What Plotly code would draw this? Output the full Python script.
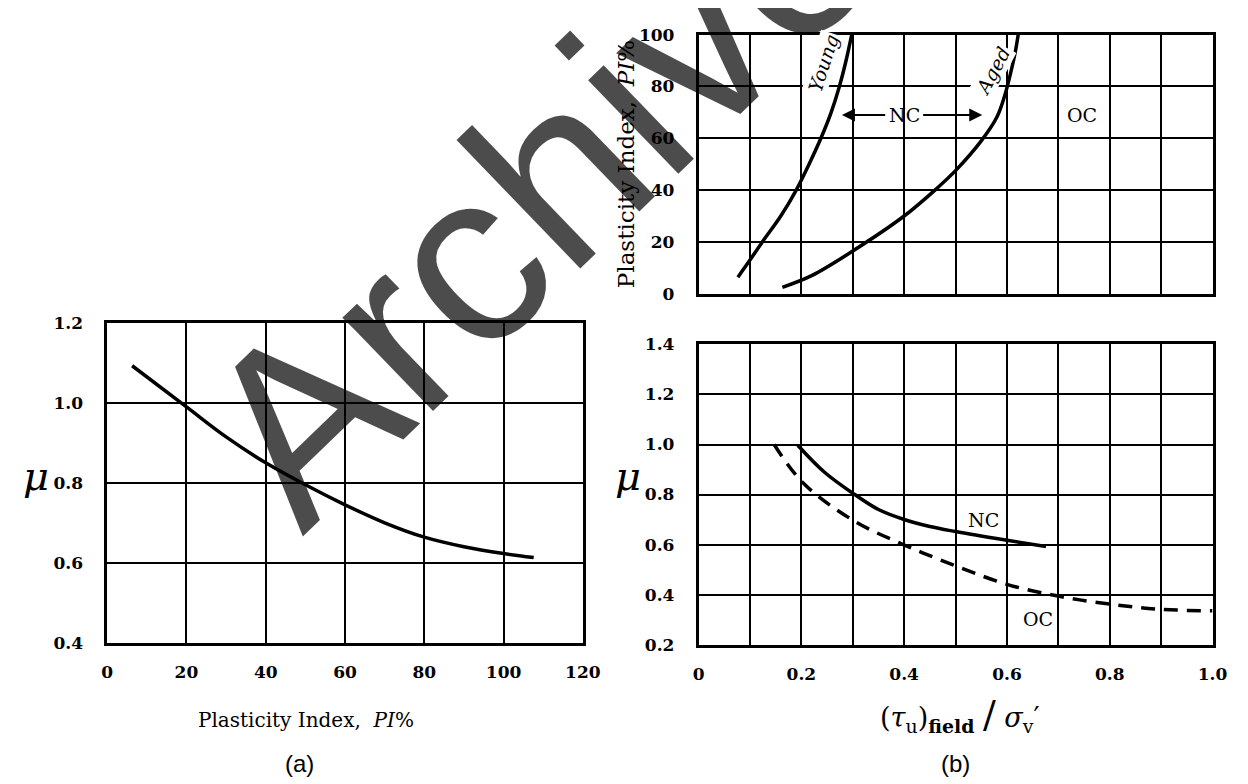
import plotly.graph_objects as go

# ---- data ----
# (a) mu against plasticity index
pi_a = [6.3, 20, 30, 40, 50, 60, 70, 80, 90, 100, 107.6]
mu_a = [1.093, 0.99, 0.915, 0.85, 0.795, 0.745, 0.70, 0.664, 0.64, 0.623, 0.613]

# (b) top: plasticity index against (tau_u)field / sigma_v'
young_x = [0.0765, 0.10, 0.124, 0.16, 0.19, 0.215, 0.238, 0.258, 0.274, 0.287, 0.298]
young_pi = [6.4, 13, 20, 30, 40, 50, 60, 70, 80, 90, 100]
aged_x = [0.163, 0.22, 0.30, 0.40, 0.46, 0.50, 0.55, 0.58, 0.595, 0.607, 0.616, 0.622]
aged_pi = [2.5, 7, 16.5, 30, 40, 47.5, 59, 68, 76, 85, 93, 100]

# (b) bottom: mu against (tau_u)field / sigma_v'
nc_x = [0.193, 0.2445, 0.303, 0.35, 0.40, 0.45, 0.50, 0.60, 0.676]
nc_mu = [0.997, 0.890, 0.801, 0.74, 0.70, 0.672, 0.652, 0.617, 0.592]
oc_x = [0.147, 0.204, 0.303, 0.403, 0.505, 0.603, 0.702, 0.803, 0.90, 1.0]
oc_mu = [1.0, 0.845, 0.694, 0.596, 0.511, 0.439, 0.393, 0.361, 0.341, 0.335]

# tick labels
a_xticks = [0, 20, 40, 60, 80, 100, 120]
a_yticks = [0.4, 0.6, 0.8, 1.0, 1.2]
a_ytext = ['0.4', '0.6', '0.8', '1.0', '1.2']
b_xticks = [0, 0.1, 0.2, 0.3, 0.4, 0.5, 0.6, 0.7, 0.8, 0.9, 1.0]
b_xtext = ['0', '', '0.2', '', '0.4', '', '0.6', '', '0.8', '', '1.0']
top_yticks = [0, 20, 40, 60, 80, 100]
bot_yticks = [0.2, 0.4, 0.6, 0.8, 1.0, 1.2, 1.4]
bot_ytext = ['0.2', '0.4', '0.6', '0.8', '1.0', '1.2', '1.4']

W, H = 1248, 784
SERIF = 'DejaVu Serif'


def px_x(p):
    return p / W


def px_y(p):
    return 1 - p / H


tick_font = dict(family=SERIF, size=17, color='black', weight='bold')


def axis(domain, rng, standoff, **kw):
    d = dict(domain=domain, range=rng, showline=True, linecolor='black',
             linewidth=2.5, mirror=True, showgrid=True, gridcolor='black',
             gridwidth=2, zeroline=False, ticks='', tickfont=tick_font,
             ticklabelstandoff=standoff, fixedrange=True)
    d.update(kw)
    return d


def paper_text(text, x, y, font, **kw):
    d = dict(text=text, x=px_x(x), y=px_y(y), xref='paper', yref='paper',
             xanchor='center', yanchor='middle', showarrow=False, font=font)
    d.update(kw)
    return d


line = dict(color='black', width=3.5, shape='spline')

fig = go.Figure()
fig.add_trace(go.Scatter(x=pi_a, y=mu_a, mode='lines', line=line,
                         xaxis='x', yaxis='y'))
fig.add_trace(go.Scatter(x=young_x, y=young_pi, mode='lines', line=line,
                         xaxis='x2', yaxis='y2'))
fig.add_trace(go.Scatter(x=aged_x, y=aged_pi, mode='lines', line=line,
                         xaxis='x2', yaxis='y2'))
fig.add_trace(go.Scatter(x=nc_x, y=nc_mu, mode='lines', line=line,
                         xaxis='x3', yaxis='y3'))
fig.add_trace(go.Scatter(x=oc_x, y=oc_mu, mode='lines',
                         line=dict(color='black', width=3.5, shape='spline',
                                   dash='14px,9px'),
                         xaxis='x3', yaxis='y3'))

bx = [px_x(698), px_x(1222)]
fig.update_layout(
    width=W, height=H, showlegend=False,
    paper_bgcolor='white', plot_bgcolor='white',
    margin=dict(l=0, r=0, t=0, b=0),
    xaxis=axis([px_x(95), px_x(580)], [0, 120], 12, anchor='y',
               tickvals=a_xticks),
    yaxis=axis([px_y(641), px_y(313)], [0.4, 1.2], 18, anchor='x',
               tickvals=a_yticks, ticktext=a_ytext),
    xaxis2=axis(bx, [0, 1], 12, anchor='y2', tickvals=b_xticks,
                showticklabels=False),
    yaxis2=axis([px_y(283), px_y(17)], [0, 100], 18, anchor='x2',
                tickvals=top_yticks),
    xaxis3=axis(bx, [0, 1], 12, anchor='y3', tickvals=b_xticks,
                ticktext=b_xtext),
    yaxis3=axis([px_y(643), px_y(335)], [0.2, 1.4], 18, anchor='x3',
                tickvals=bot_yticks, ticktext=bot_ytext),
)

ann = []
# watermark
ann.append(paper_text('Archived', 585, 128,
                      dict(family='Liberation Sans', size=246,
                           color='rgba(0,0,0,0.7)'),
                      textangle=-44))
# axis titles
mu_font = dict(family='DejaVu Serif', size=40, color='black', style='italic')
ann.append(paper_text('μ', 22, 470, mu_font))
ann.append(paper_text('μ', 626, 470, mu_font))
ann.append(paper_text('Plasticity Index,  <i>PI</i>%', 298, 720,
                      dict(family=SERIF, size=20, color='black')))
ann.append(paper_text('Plasticity Index,  <i>PI</i>%', 624, 150,
                      dict(family=SERIF, size=23, color='black'),
                      textangle=-90))
ann.append(paper_text('(<i>τ</i><sub>u</sub>)<sub><b>field</b></sub>'
                      ' <span style="font-size:38px">/</span> '
                      '<i>σ</i><sub>v</sub>′', 965, 715,
                      dict(family='DejaVu Serif', size=27, color='black')))
ann.append(paper_text('(a)', 291, 765,
                      dict(family='Liberation Sans', size=24, color='black')))
ann.append(paper_text('(b)', 960, 765,
                      dict(family='Liberation Sans', size=24, color='black')))

# curve labels, top panel
lab_font = dict(family=SERIF, size=19, color='black')
ann.append(dict(text='<i>Young</i>', x=0.243, y=89, xref='x2', yref='y2',
                showarrow=False, textangle=-72, bgcolor='white',
                font=lab_font))
ann.append(dict(text='<i>Aged</i>', x=0.572, y=86, xref='x2', yref='y2',
                showarrow=False, textangle=-62, bgcolor='white',
                font=lab_font))
ann.append(dict(text='NC', x=0.40, y=69, xref='x2', yref='y2',
                showarrow=False, font=lab_font))
ann.append(dict(text='OC', x=0.746, y=69, xref='x2', yref='y2',
                showarrow=False, font=lab_font))
for head, tail in [(0.279, 0.366), (0.552, 0.434)]:
    ann.append(dict(text='', x=head, y=69, ax=tail, ay=69, xref='x2',
                    yref='y2', axref='x2', ayref='y2', showarrow=True,
                    arrowhead=2, arrowsize=1.3, arrowwidth=2,
                    arrowcolor='black'))
# curve labels, bottom panel
ann.append(dict(text='NC', x=0.554, y=0.70, xref='x3', yref='y3',
                showarrow=False, font=lab_font))
ann.append(dict(text='OC', x=0.66, y=0.302, xref='x3', yref='y3',
                showarrow=False, font=lab_font))

fig.update_layout(annotations=ann)
fig.write_html('out.html')
